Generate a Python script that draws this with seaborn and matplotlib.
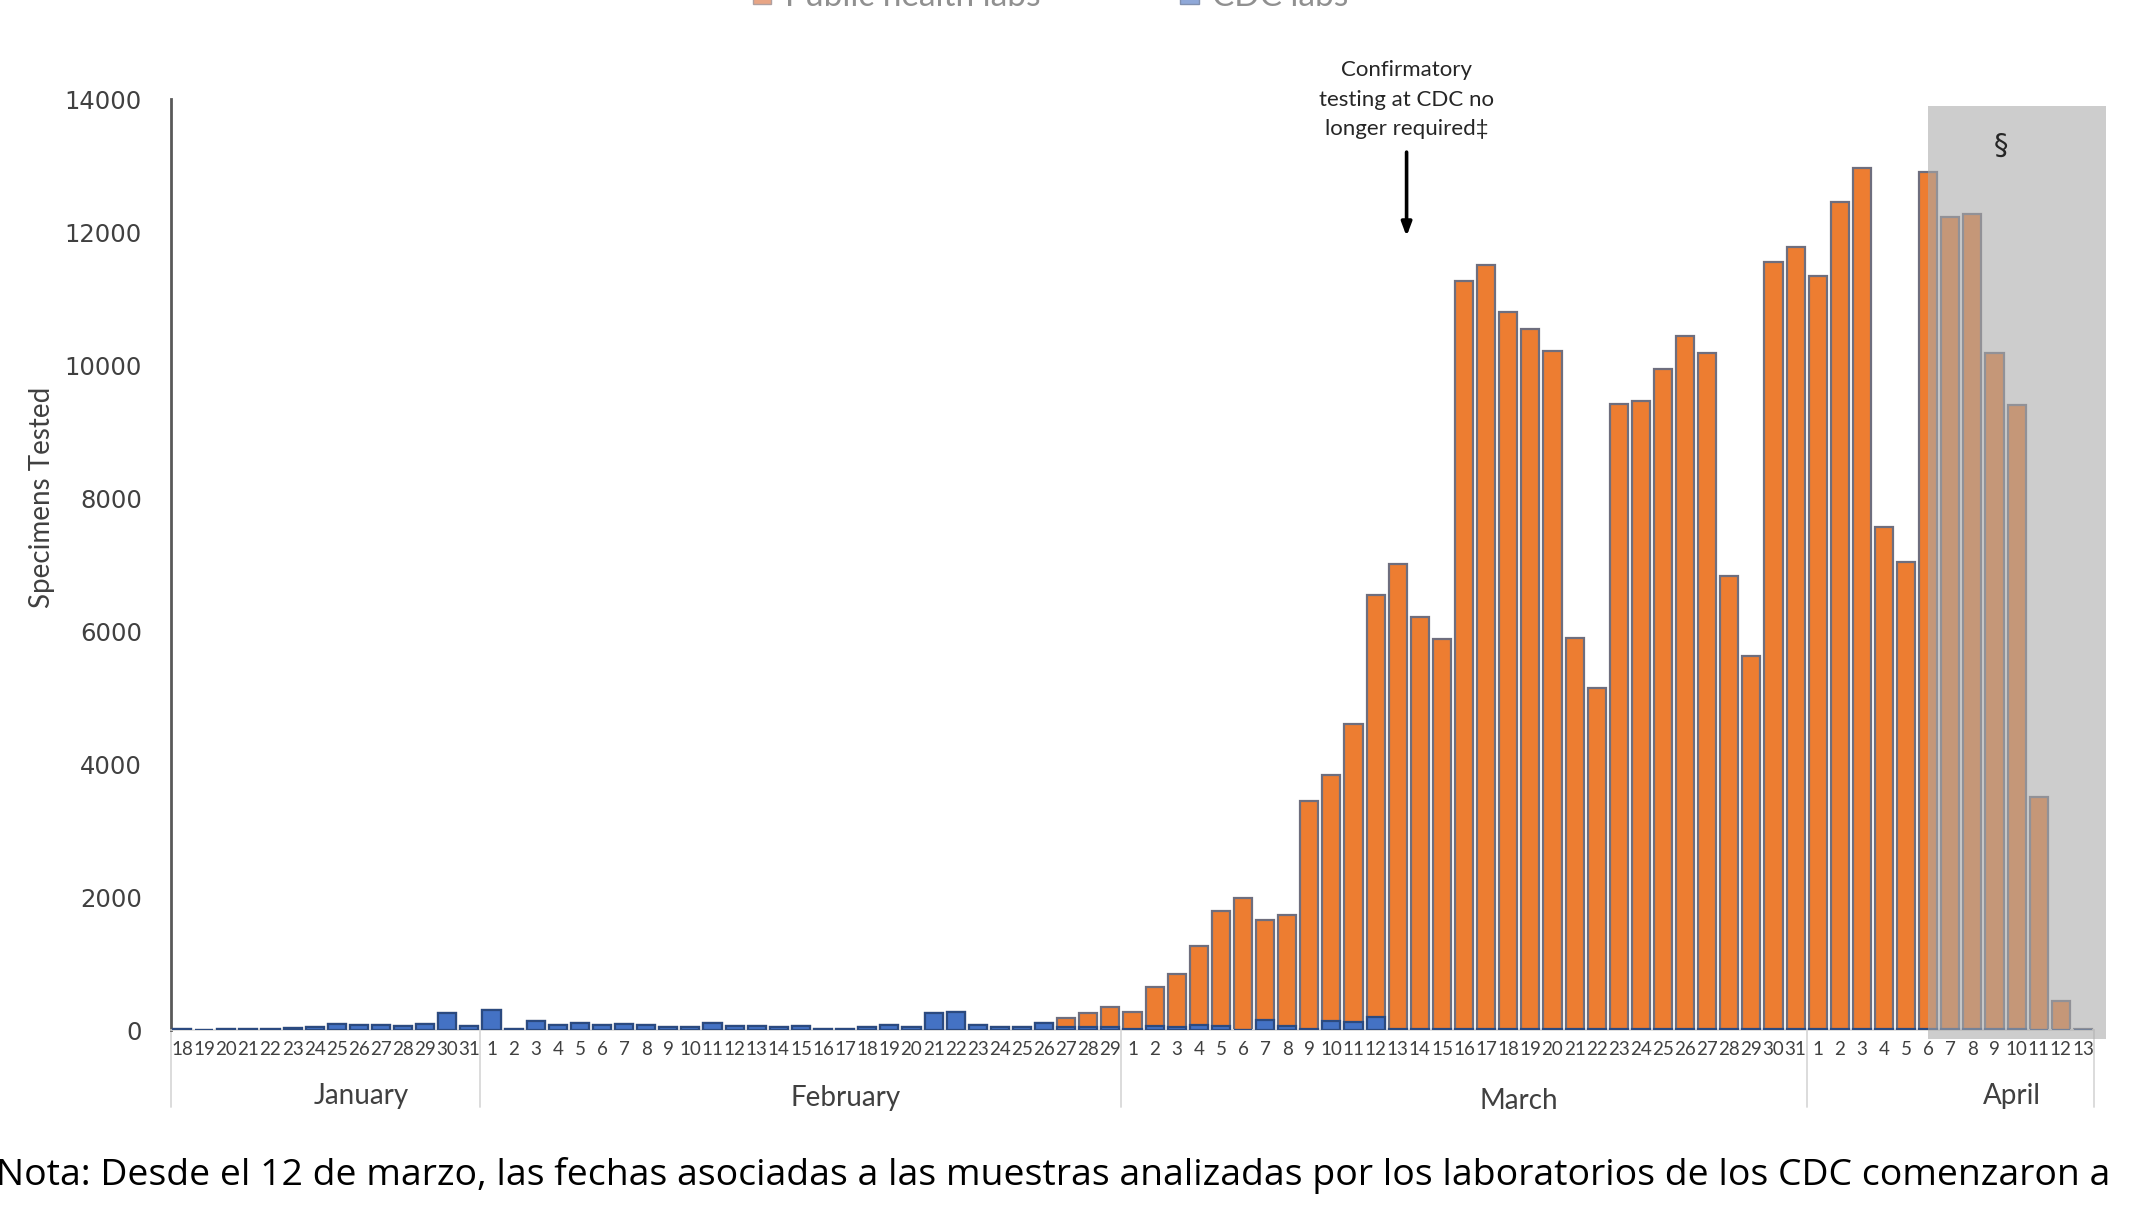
import numpy as np
import pandas as pd
import matplotlib
matplotlib.use("Agg")
import matplotlib.pyplot as plt
from matplotlib.patches import Rectangle
import seaborn as sns

# days shown on the axis, per month
months = ["January", "February", "March", "April"]
month_days = [list(range(18, 32)), list(range(1, 30)), list(range(1, 32)), list(range(1, 14))]

# specimens tested by CDC labs (blue, bottom of each bar)
cdc_labs = [
    10, 0, 10, 10, 10, 30, 50, 90, 75, 75, 60, 90, 250, 60,
    305, 20, 130, 80, 105, 75, 90, 80, 40, 40, 105, 65, 65, 50, 65, 20, 20, 40, 80, 50,
    250, 265, 80, 50, 50, 105, 50, 50, 40,
    20, 65, 50, 75, 65, 0, 150, 65, 10, 135, 115, 190, 10, 10, 10, 15, 10, 10, 10,
    10, 15, 10, 10, 15, 10, 15, 10, 10, 15, 15, 10,
    10, 15, 15, 10, 10, 10, 10, 10, 10, 10, 5, 0, 0,
]
# specimens tested by public health labs (orange, stacked on top)
public_health_labs = [
    0, 0, 0, 0, 0, 0, 0, 0, 0, 0, 0, 0, 0, 0,
    0, 0, 0, 0, 0, 0, 0, 0, 0, 0, 0, 0, 0, 0, 0, 0, 0, 0, 0, 0,
    0, 0, 0, 0, 0, 0, 130, 200, 310,
    250, 575, 800, 1190, 1720, 1985, 1510, 1670, 3440, 3695, 4495, 6350, 7000, 6200, 5870,
    11260, 11495, 10800, 10540, 10205, 5890, 5135, 9410, 9450, 9935, 10425, 10170, 6815, 5605,
    11540, 11770,
    11340, 12445, 12955, 7560, 7030, 12900, 12220, 12260, 10170, 9390, 3495, 440, 10,
]

orange = "#ED7D31"
blue = "#4472C4"
text_font = ["Lato", "DejaVu Sans"]

sns.set_style("white")
plt.rcParams["font.family"] = text_font

day_labels = [str(d) for days in month_days for d in days]
n = len(day_labels)
df = pd.DataFrame({
    "pos": np.arange(n),
    "cdc": cdc_labs,
    "total": np.array(cdc_labs) + np.array(public_health_labs),
})

fig = plt.figure(figsize=(21.4, 12.16), dpi=100)
ax = fig.add_axes([171 / 2140, 186 / 1216, 1923 / 2140, 930.5 / 1216])

sns.barplot(data=df, x="pos", y="total", color=orange, saturation=1, width=0.82,
            edgecolor="#6E6E7E", linewidth=1.6, ax=ax, zorder=2)
sns.barplot(data=df, x="pos", y="cdc", color=blue, saturation=1, width=0.82,
            edgecolor="#2B4A80", linewidth=1.6, ax=ax, zorder=3)

ax.set_xlim(-0.5, n - 0.5)
ax.set_ylim(0, 14000)
ax.set_yticks(range(0, 14001, 2000))
ax.set_yticklabels([str(v) for v in range(0, 14001, 2000)], fontsize=17.5,
                   color="#404040", family="DejaVu Sans")
ax.set_xticks(range(n))
ax.set_xticklabels(day_labels, fontsize=13.5, color="#404040")
ax.tick_params(axis="both", length=0)
ax.tick_params(axis="y", pad=21)
ax.tick_params(axis="x", pad=8)
ax.set_xlabel("")
ax.set_ylabel("Specimens Tested", fontsize=20, color="#404040")
ax.yaxis.set_label_coords(-0.0603, 0.572)

for side in ["top", "right"]:
    ax.spines[side].set_visible(False)
ax.spines["left"].set_color("#595959")
ax.spines["left"].set_linewidth(2)
ax.spines["bottom"].set_color("#D9D9D9")
ax.spines["bottom"].set_linewidth(1.2)

# month separators and month names under the day labels
trans = ax.get_xaxis_transform()
edges = np.cumsum([0] + [len(d) for d in month_days]) - 0.5
for e in edges:
    ax.plot([e, e], [0, -0.083], transform=trans, color="#D9D9D9", lw=1.3, clip_on=False)
name_shift = [1.6, 2.0, 2.5, 2.8]
name_y = [-0.071, -0.073, -0.076, -0.071]
for name, lo, hi, s, y in zip(months, edges[:-1], edges[1:], name_shift, name_y):
    ax.text((lo + hi) / 2 + s, y, name, transform=trans, ha="center", va="center",
            fontsize=20, color="#404040")

# shaded period with incomplete reporting
start = sum(len(d) for d in month_days[:3]) + 5
ax.add_patch(Rectangle((start, -130), n - start + 0.05, 14030, facecolor="#AAAAAA",
                       alpha=0.59, edgecolor="none", zorder=5, clip_on=False))
ax.text(start + 3.3, 13300, "\u00a7", ha="center", va="center", fontsize=21,
        color="#262626", zorder=6, family="DejaVu Sans")

# annotation arrow
arrow_x = sum(len(d) for d in month_days[:2]) + 12.4
ax.annotate("", xy=(arrow_x, 11900), xytext=(arrow_x, 13250),
            arrowprops=dict(arrowstyle="-|>,head_width=0.3,head_length=0.8",
                            color="black", lw=2.6), annotation_clip=False)
ax.text(arrow_x, 14000, "Confirmatory\ntesting at CDC no\nlonger required\u2021",
        ha="center", va="center", fontsize=16, color="#262626", linespacing=1.58)

# legend, cut off by the top edge
handles = [Rectangle((0, 0), 1, 1, facecolor="#E8A585", edgecolor="#B0A0A0"),
           Rectangle((0, 0), 1, 1, facecolor="#8FA8D8", edgecolor="#8090B0")]
fig.legend(handles, ["Public health labs", "CDC labs"], loc="lower left",
           bbox_to_anchor=(753 / 2140, 1 - 12 / 1216), ncol=2, frameon=False,
           fontsize=24, borderpad=0, borderaxespad=0, handlelength=0.55,
           handleheight=0.55, handletextpad=0.4, columnspacing=4.2,
           labelcolor="#909090")

fig.text(-0.002, 31 / 1216,
         "Nota: Desde el 12 de marzo, las fechas asociadas a las muestras analizadas por los laboratorios de los CDC comenzaron a",
         fontsize=26.9, family="Open Sans", color="black", va="baseline", ha="left")

fig.savefig("out.png", dpi=100)
